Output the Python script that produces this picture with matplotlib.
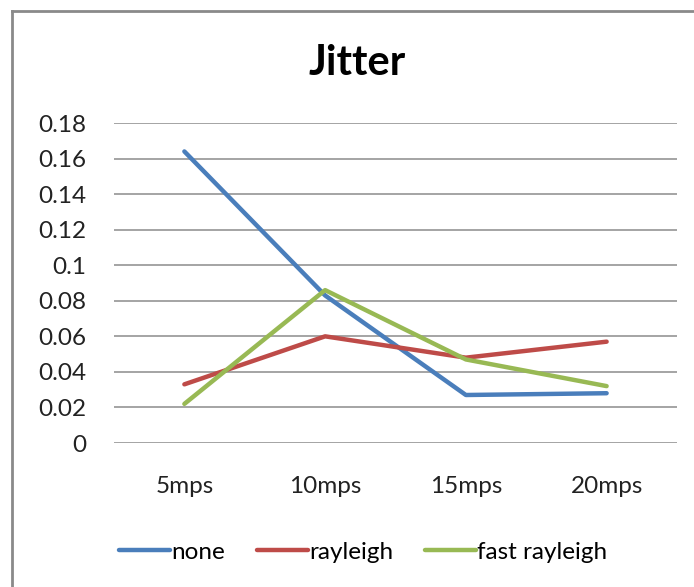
import matplotlib.pyplot as plt
from matplotlib.lines import Line2D

speeds = ["5mps", "10mps", "15mps", "20mps"]
none = [0.164, 0.083, 0.027, 0.028]
rayleigh = [0.033, 0.060, 0.048, 0.057]
fast_rayleigh = [0.022, 0.086, 0.047, 0.032]

plt.rcParams['font.family'] = ['Lato', 'DejaVu Sans']

fig = plt.figure(figsize=(6.94, 5.87), dpi=100)
# plot area in pixel terms: x 114..677, y 123..443
W, H = 694, 587
ax = fig.add_axes([114 / W, 1 - 443 / H, (677 - 114) / W, (443 - 123) / H])

x = range(len(speeds))
ax.plot(x, none, color="#4A7EBB", lw=3.2, label="none", solid_capstyle="round")
ax.plot(x, rayleigh, color="#BE4B48", lw=3.2, label="rayleigh", solid_capstyle="round")
ax.plot(x, fast_rayleigh, color="#98B954", lw=3.2, label="fast rayleigh", solid_capstyle="round")

ax.set_xlim(-0.5, 3.5)
ax.set_ylim(0, 0.18)
ax.set_yticks([i * 0.02 for i in range(10)])
ax.set_yticklabels(["0", "0.02", "0.04", "0.06", "0.08", "0.1", "0.12", "0.14", "0.16", "0.18"])
ax.set_xticks(list(x))
ax.set_xticklabels(speeds)
ax.grid(axis="y", color="#8c8c8c", lw=1.1)
ax.set_axisbelow(True)
for s in ax.spines.values():
    s.set_visible(False)
ax.tick_params(axis="both", length=0, labelsize=17.5, colors="#222222")
ax.tick_params(axis="y", pad=20)
ax.tick_params(axis="x", pad=24)

fig.text(357 / W, 1 - 63 / H, "Jitter", ha="center", va="center",
         fontsize=30, fontweight="bold")

ax.legend(loc="center", bbox_to_anchor=(363 / W, 1 - 552 / H),
          bbox_transform=fig.transFigure, ncol=3, frameon=False,
          fontsize=17.5, handlelength=2.1, handletextpad=0.05,
          columnspacing=1.3)

# chart border (top and left edges only)
fig.add_artist(Line2D([12 / W, 1], [1 - 11 / H, 1 - 11 / H], color="#8a8a8a", lw=2))
fig.add_artist(Line2D([12 / W, 12 / W], [0, 1 - 11 / H], color="#8a8a8a", lw=2))

fig.savefig("out.png", dpi=100)
